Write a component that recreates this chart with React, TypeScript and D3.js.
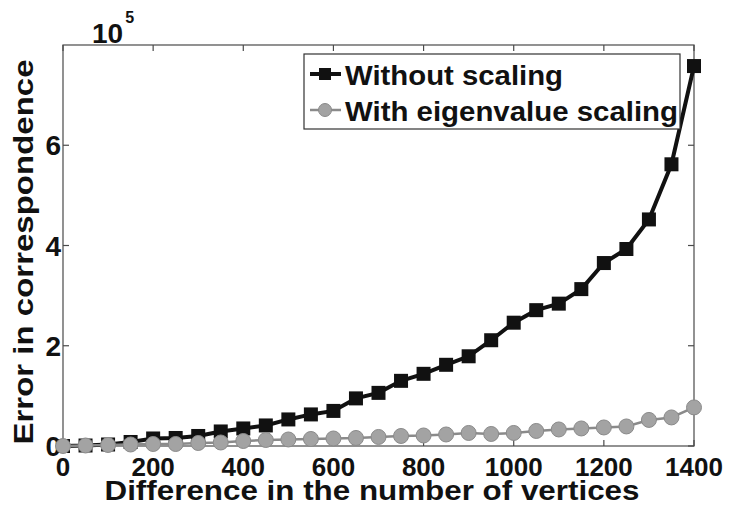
import React, { useEffect, useRef } from 'react';
import * as d3 from 'd3';

// vertex difference (x axis)
const vertexDiff = [
    0, 50, 100, 150, 200, 250, 300, 350, 400, 450, 500, 550, 600, 650, 700, 750, 800, 850, 900, 950, 1000, 1050, 1100,
    1150, 1200, 1250, 1300, 1350, 1400,
];
// error, in units of 10^5
const withoutScaling = [
    0, 0.01, 0.03, 0.08, 0.15, 0.16, 0.2, 0.29, 0.35, 0.41, 0.53, 0.63, 0.7, 0.95, 1.06, 1.3, 1.44, 1.62, 1.79, 2.11,
    2.46, 2.71, 2.84, 3.13, 3.65, 3.93, 4.52, 5.62, 7.58,
];
const withEigenScaling = [
    0, 0.01, 0.02, 0.03, 0.04, 0.04, 0.06, 0.07, 0.1, 0.12, 0.13, 0.14, 0.15, 0.16, 0.18, 0.2, 0.21, 0.23, 0.26, 0.24,
    0.26, 0.3, 0.33, 0.35, 0.37, 0.39, 0.52, 0.57, 0.77,
];
const xTicks = [0, 200, 400, 600, 800, 1000, 1200, 1400];
const yTicks = [0, 2, 4, 6];
const legendLabels = ['Without scaling', 'With eigenvalue scaling'];

const FONT = "'Liberation Sans', Arial, Helvetica, sans-serif";

export default function App() {
    const svgRef = useRef<SVGSVGElement>(null);

    useEffect(() => {
        const svg = d3.select(svgRef.current);
        svg.selectAll('*').remove();

        const width = 729;
        const height = 505;
        const plot = { left: 63, right: 694, top: 45, bottom: 446 };

        const xScale = d3.scaleLinear().domain([0, 1400]).range([plot.left, plot.right]);
        const yScale = d3.scaleLinear().domain([0, 8]).range([plot.bottom, plot.top]);

        svg.append('rect').attr('width', width).attr('height', height).attr('fill', 'white');

        const axisColor = '#4a4a4a';
        const tickLen = 6;

        // frame
        svg.append('rect')
            .attr('x', plot.left)
            .attr('y', plot.top)
            .attr('width', plot.right - plot.left)
            .attr('height', plot.bottom - plot.top)
            .attr('fill', 'none')
            .attr('stroke', axisColor)
            .attr('stroke-width', 1.2);

        // inward ticks on all four sides
        const ticksG = svg.append('g').attr('stroke', axisColor).attr('stroke-width', 1.2);
        xTicks.forEach((t) => {
            ticksG.append('line').attr('x1', xScale(t)).attr('x2', xScale(t)).attr('y1', plot.bottom).attr('y2', plot.bottom - tickLen);
            ticksG.append('line').attr('x1', xScale(t)).attr('x2', xScale(t)).attr('y1', plot.top).attr('y2', plot.top + tickLen);
        });
        yTicks.forEach((t) => {
            ticksG.append('line').attr('x1', plot.left).attr('x2', plot.left + tickLen).attr('y1', yScale(t)).attr('y2', yScale(t));
            ticksG.append('line').attr('x1', plot.right).attr('x2', plot.right - tickLen).attr('y1', yScale(t)).attr('y2', yScale(t));
        });

        // tick labels
        svg.append('g')
            .selectAll('text')
            .data(xTicks)
            .enter()
            .append('text')
            .attr('x', (d) => xScale(d))
            .attr('y', 476)
            .attr('text-anchor', 'middle')
            .attr('font-family', FONT)
            .attr('font-weight', 'bold')
            .attr('font-size', 26)
            .attr('fill', '#111')
            .text((d) => d);

        svg.append('g')
            .selectAll('text')
            .data(yTicks)
            .enter()
            .append('text')
            .attr('x', plot.left - 2)
            .attr('y', (d) => yScale(d) + 10)
            .attr('text-anchor', 'end')
            .attr('font-family', FONT)
            .attr('font-weight', 'bold')
            .attr('font-size', 28)
            .attr('fill', '#111')
            .text((d) => d);

        // exponent label
        const expo = svg.append('text').attr('x', 92).attr('y', 43).attr('font-family', FONT).attr('font-weight', 'bold').attr('fill', '#111');
        expo.append('tspan').attr('font-size', 28).text('10');
        expo.append('tspan').attr('font-size', 16).attr('dx', 2).attr('dy', -20).text('5');

        // axis titles
        svg.append('text')
            .attr('x', 372)
            .attr('y', 500)
            .attr('text-anchor', 'middle')
            .attr('font-family', FONT)
            .attr('font-weight', 'bold')
            .attr('font-size', 27)
            .attr('textLength', 535)
            .attr('lengthAdjust', 'spacingAndGlyphs')
            .attr('fill', '#111')
            .text('Difference in the number of vertices');

        svg.append('text')
            .attr('transform', 'translate(33,252) rotate(-90)')
            .attr('text-anchor', 'middle')
            .attr('font-family', FONT)
            .attr('font-weight', 'bold')
            .attr('font-size', 27)
            .attr('textLength', 385)
            .attr('lengthAdjust', 'spacingAndGlyphs')
            .attr('fill', '#111')
            .text('Error in correspondence');

        const line = d3
            .line<number>()
            .x((d, i) => xScale(vertexDiff[i]))
            .y((d) => yScale(d));

        const grayFill = '#a3a3a3';
        const grayStroke = '#8a8a8a';

        // black series
        svg.append('path').attr('d', line(withoutScaling)).attr('fill', 'none').attr('stroke', '#111').attr('stroke-width', 4);
        svg.append('g')
            .selectAll('rect')
            .data(withoutScaling)
            .enter()
            .append('rect')
            .attr('x', (d, i) => xScale(vertexDiff[i]) - 7)
            .attr('y', (d) => yScale(d) - 7)
            .attr('width', 14)
            .attr('height', 14)
            .attr('fill', '#111');

        // gray series
        svg.append('path').attr('d', line(withEigenScaling)).attr('fill', 'none').attr('stroke', grayStroke).attr('stroke-width', 2.5);
        svg.append('g')
            .selectAll('circle')
            .data(withEigenScaling)
            .enter()
            .append('circle')
            .attr('cx', (d, i) => xScale(vertexDiff[i]))
            .attr('cy', (d) => yScale(d))
            .attr('r', 7.5)
            .attr('fill', grayFill)
            .attr('stroke', grayStroke)
            .attr('stroke-width', 1);

        // legend
        const lg = svg.append('g');
        lg.append('rect')
            .attr('x', 304)
            .attr('y', 54)
            .attr('width', 376)
            .attr('height', 75)
            .attr('fill', 'white')
            .attr('stroke', '#333')
            .attr('stroke-width', 1.2);

        const legendWidths = [218, 333];
        legendLabels.forEach((label, i) => {
            const cy = 74 + i * 36;
            const isBlack = i === 0;
            lg.append('line')
                .attr('x1', 310)
                .attr('x2', 341)
                .attr('y1', cy)
                .attr('y2', cy)
                .attr('stroke', isBlack ? '#111' : grayStroke)
                .attr('stroke-width', isBlack ? 4 : 2.5);
            if (isBlack) {
                lg.append('rect').attr('x', 319).attr('y', cy - 6).attr('width', 12).attr('height', 12).attr('fill', '#111');
            } else {
                lg.append('circle').attr('cx', 325).attr('cy', cy).attr('r', 6.5).attr('fill', grayFill).attr('stroke', grayStroke);
            }
            lg.append('text')
                .attr('x', 345)
                .attr('y', cy + 11)
                .attr('font-family', FONT)
                .attr('font-weight', 'bold')
                .attr('font-size', 28)
                .attr('textLength', legendWidths[i])
                .attr('lengthAdjust', 'spacingAndGlyphs')
                .attr('fill', '#111')
                .text(label);
        });
    }, []);

    return (
        <div style={{ position: 'absolute', left: 0, top: 0 }}>
            <svg ref={svgRef} width={729} height={505} style={{ display: 'block' }} />
        </div>
    );
}
